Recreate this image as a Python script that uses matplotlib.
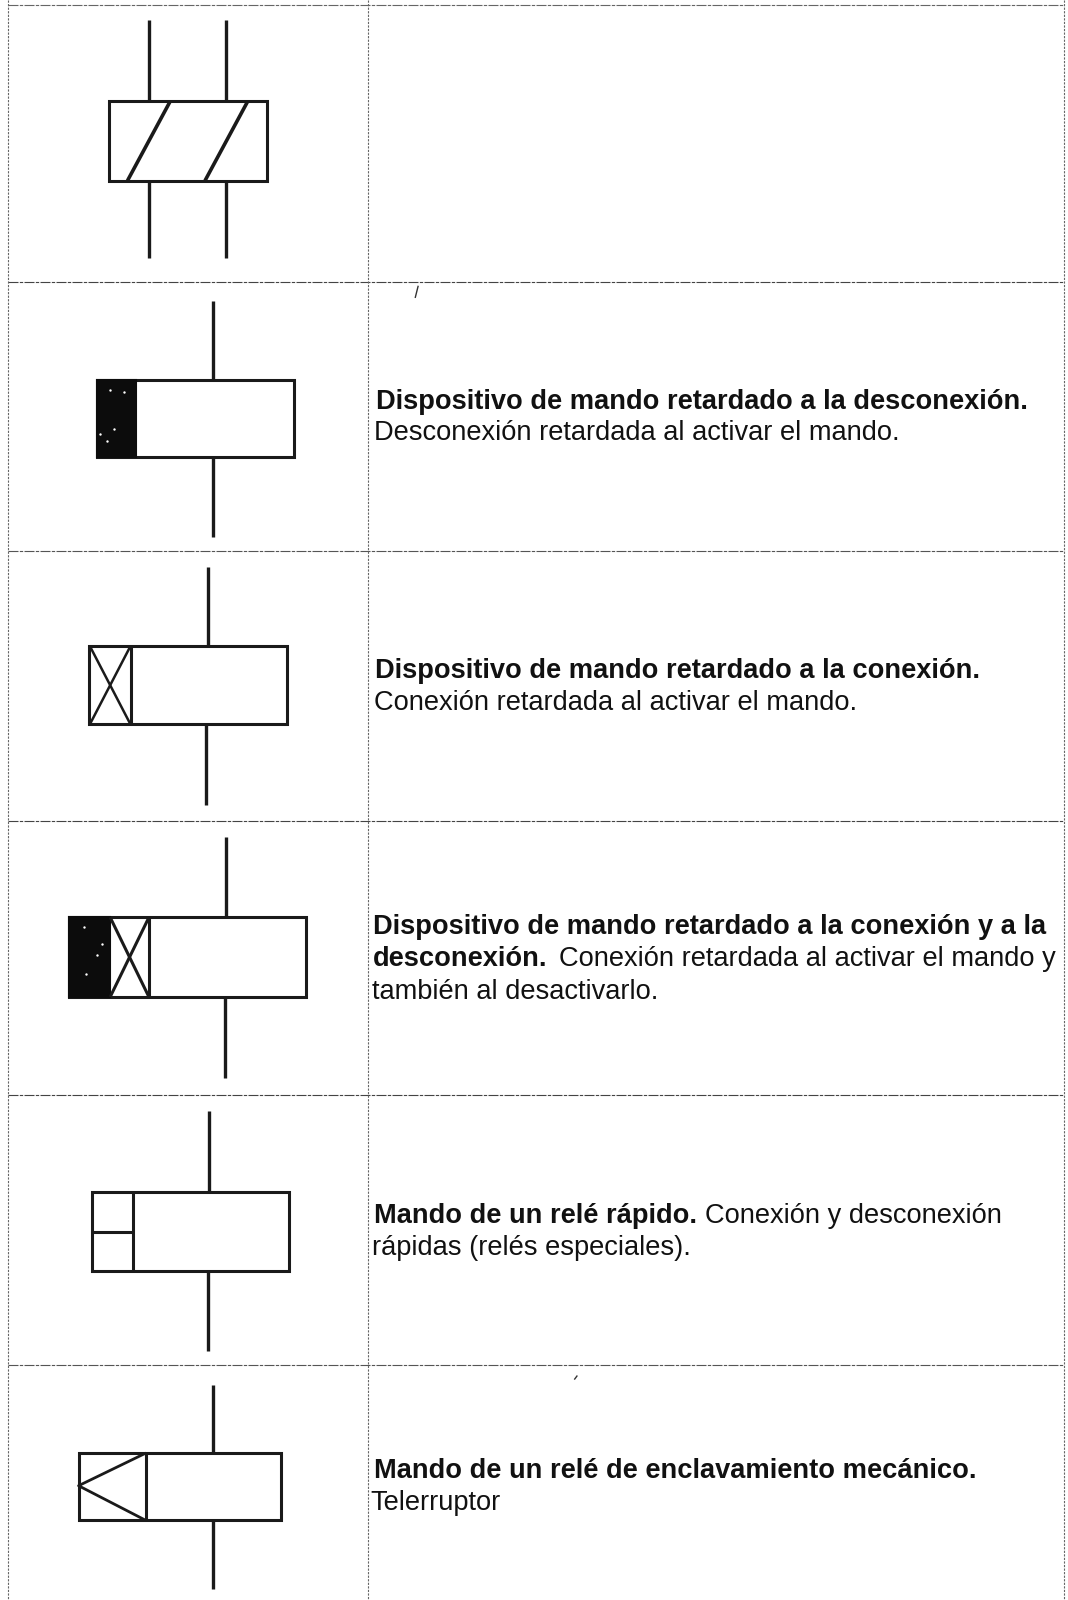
import matplotlib
matplotlib.use('Agg')
import matplotlib.pyplot as plt
from matplotlib.patches import Rectangle

# Table structure (coordinates in reference picture space)
row_lines = [5, 276, 540, 805, 1073, 1338]
col_lines = [8, 361, 1043]
row_line_colors = ['#666666', '#444444', '#555555', '#444444', '#444444', '#555555']

# Symbols: box x0,x1,y0,y1 and stem x (top), x (bottom), top y, bottom y
sym_boxes = [(95, 288, 372, 448), (87, 281, 633, 710), (68, 300, 899, 977), (90, 283, 1168, 1246), (77, 275, 1424, 1490)]
sym_stems = [(209, 209, 295, 526), (204, 202, 556, 789), (222, 221, 820, 1056), (205, 204, 1089, 1324), (209, 209, 1357, 1557)]

# Scan specks
speck_x = [108, 122, 98, 112, 105, 82, 100, 95, 84]
speck_y = [382, 384, 425, 420, 432, 908, 925, 936, 955]
stray_marks = [((407, 410), (292, 280)), ((563, 566), (1352, 1348))]

fig = plt.figure(figsize=(10.68, 16.0), dpi=100)
ax = fig.add_axes([0, 0, 1, 1])
ax.set_xlim(0, 1047)
ax.set_ylim(1568, 0)
ax.axis('off')
FONT = 'Liberation Sans'
LC = '#1a1a1a'

def L(xs, ys, lw=2.4, c=LC, **k):
    ax.plot(xs, ys, color=c, lw=lw, solid_capstyle='butt', **k)

# table grid
for y, c in zip(row_lines, row_line_colors):
    L([col_lines[0], col_lines[2]], [y, y], lw=0.8, c=c, ls=(0, (9, 1.2, 3, 1.2)))
for x in col_lines:
    L([x, x], [0, 1568], lw=0.8, c='#666666', ls=(0, (2, 1.2)))

# first symbol: two stems and slanted box
for x in (146, 222):
    L([x, x], [20, 98]); L([x, x], [178, 253])
ax.add_patch(Rectangle((107, 99), 155, 78, fill=False, ec=LC, lw=2.2))
L([125, 167], [177, 99], lw=2.6)
L([201, 243], [177, 99], lw=2.6)

# other symbols
for (x0, x1, y0, y1), (sx0, sx1, sy0, sy1) in zip(sym_boxes, sym_stems):
    ax.add_patch(Rectangle((x0, y0), x1 - x0, y1 - y0, fill=False, ec=LC, lw=2.2))
    L([sx0, sx0], [sy0, y0])
    L([sx1, sx1], [y1, sy1])

# symbol 2: filled block
ax.add_patch(Rectangle((95, 372), 38, 76, fc='#0c0c0c', ec='#0c0c0c', lw=1.5))
# symbol 3: crossed block
L([128, 128], [633, 710], lw=2.2)
L([88, 128], [633, 710], lw=1.8); L([128, 88], [633, 710], lw=1.8)
# symbol 4: filled + crossed
ax.add_patch(Rectangle((68, 899), 40, 78, fc='#0c0c0c', ec='#0c0c0c', lw=1.5))
L([146, 146], [899, 977], lw=2.2)
L([108, 146], [899, 977], lw=2.2); L([146, 108], [899, 977], lw=2.2)
# symbol 5: split block
L([130, 130], [1168, 1246], lw=2.2)
L([90, 130], [1207, 1207], lw=2.2)
# symbol 6: triangle block
L([143, 143], [1424, 1490], lw=2.2)
L([143, 77, 143], [1424, 1456, 1490], lw=2.0)

# scan artefacts
ax.scatter(speck_x, speck_y, s=3, c='white', lw=0, zorder=5)
for xs, ys in stray_marks:
    L(xs, ys, lw=1.0, c='#333333')

# text
FS = 19.6
def T(x, y, s, bold=False):
    ax.text(x, y, s, family=FONT, fontsize=FS, color='#111111', va='center', ha='left',
            fontweight='bold' if bold else 'normal')

T(369, 393.5, 'Dispositivo de mando retardado a la desconexión.', True)
T(367, 424, 'Desconexión retardada al activar el mando.')
T(368, 657.5, 'Dispositivo de mando retardado a la conexión.', True)
T(367, 689, 'Conexión retardada al activar el mando.')
T(366, 908, 'Dispositivo de mando retardado a la conexión y a la', True)
T(366, 940, 'desconexión.', True)
T(548, 940, 'Conexión retardada al activar el mando y')
T(365, 972, 'también al desactivarlo.')
T(367, 1191.5, 'Mando de un relé rápido.', True)
T(691, 1191.5, 'Conexión y desconexión')
T(365, 1223, 'rápidas (relés especiales).')
T(367, 1441.5, 'Mando de un relé de enclavamiento mecánico.', True)
T(363, 1473, 'Telerruptor')

fig.savefig('out.png', dpi=100, facecolor='white')
